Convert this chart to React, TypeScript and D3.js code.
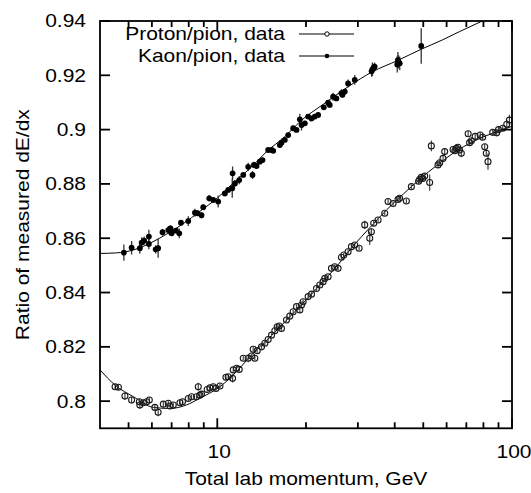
import React from "react";
import * as d3 from "d3";

// ---------- data ----------
const kaonP = [4.82, 5.12, 5.46, 5.54, 5.65, 5.86, 5.86, 6.18, 6.3, 6.52, 6.82, 6.94, 7.0, 7.24, 7.43, 7.53, 7.97, 8.4, 8.57, 8.84, 8.96, 9.39, 9.69, 10.07, 10.61, 10.89, 11.24, 11.27, 11.48, 11.87, 12.25, 12.73, 13.17, 13.31, 13.59, 13.94, 14.24, 14.88, 15.28, 15.48, 16.3, 16.51, 16.95, 17.4, 18.09, 18.57, 19.06, 19.31, 19.82, 20.34, 20.88, 21.42, 21.99, 22.98, 23.77, 24.08, 24.72, 25.37, 26.38, 26.6, 27.08, 27.79, 29.27, 33.4, 33.6, 33.9, 34.2, 40.8, 41.0, 41.2, 41.6, 49.2];
const kaonV = [0.8547, 0.8565, 0.8563, 0.8584, 0.8591, 0.8606, 0.8579, 0.8559, 0.8563, 0.8622, 0.863, 0.8636, 0.8618, 0.8628, 0.8618, 0.8657, 0.8663, 0.8694, 0.8692, 0.8685, 0.8714, 0.8747, 0.8741, 0.8735, 0.8765, 0.8778, 0.8784, 0.8839, 0.8802, 0.8814, 0.8833, 0.8863, 0.8833, 0.887, 0.8866, 0.8882, 0.8888, 0.8925, 0.8925, 0.8922, 0.8943, 0.8952, 0.8962, 0.898, 0.9005, 0.8999, 0.9038, 0.9017, 0.9023, 0.9048, 0.9041, 0.9048, 0.9054, 0.9082, 0.9099, 0.9091, 0.9121, 0.9115, 0.9134, 0.9128, 0.914, 0.917, 0.9183, 0.9215, 0.9222, 0.9228, 0.9232, 0.924, 0.9256, 0.925, 0.9244, 0.9308];
const kaonErr = [0.003, 0.0025, 0.002, 0.002, 0.0015, 0.0025, 0.002, 0.0015, 0.0035, 0.0012, 0.0015, 0.0012, 0.001, 0.001, 0.0018, 0.001, 0.0018, 0.0015, 0.001, 0.0012, 0.001, 0.0012, 0.001, 0.0022, 0.001, 0.001, 0.0035, 0.0025, 0.0012, 0.0015, 0.0008, 0.0015, 0.0015, 0.0012, 0.001, 0.0008, 0.0008, 0.0008, 0.0008, 0.0008, 0.001, 0.0015, 0.0008, 0.0008, 0.001, 0.0008, 0.002, 0.002, 0.001, 0.0008, 0.0008, 0.001, 0.001, 0.001, 0.001, 0.0008, 0.0015, 0.001, 0.0015, 0.001, 0.001, 0.0015, 0.0018, 0.002, 0.0025, 0.0015, 0.0015, 0.003, 0.003, 0.0025, 0.0025, 0.0065];

const protonP = [4.5, 4.62, 4.86, 5.12, 5.44, 5.46, 5.61, 5.76, 5.88, 6.14, 6.3, 6.56, 6.82, 6.91, 7.09, 7.47, 7.62, 7.97, 8.18, 8.51, 8.62, 8.73, 8.84, 9.24, 9.44, 9.69, 9.9, 10.21, 10.7, 10.89, 11.27, 11.33, 11.62, 11.87, 12.25, 12.73, 13.07, 13.24, 13.41, 13.66, 14.13, 14.5, 14.88, 15.28, 15.68, 15.97, 16.22, 16.51, 17.17, 17.62, 18.09, 18.57, 19.06, 19.31, 19.56, 20.34, 20.88, 21.71, 22.28, 22.86, 23.16, 23.77, 24.4, 25.04, 25.7, 26.38, 26.86, 27.79, 28.52, 29.27, 30.28, 31.64, 32.91, 33.33, 33.95, 35.12, 37.0, 37.98, 39.49, 41.05, 41.57, 43.82, 45.56, 48.2, 48.62, 49.23, 49.8, 50.55, 52.56, 53.25, 56.11, 56.85, 58.33, 59.1, 63.1, 64.0, 64.7, 65.5, 66.4, 67.3, 71.0, 71.8, 72.8, 75.0, 78.0, 79.5, 80.8, 81.8, 82.9, 86.0, 88.7, 90.0, 93.0, 96.0, 98.0];
const protonV = [0.8053, 0.8051, 0.8019, 0.8004, 0.7998, 0.7986, 0.7994, 0.7998, 0.8004, 0.7977, 0.7959, 0.7989, 0.7992, 0.7982, 0.7986, 0.7994, 0.7998, 0.801, 0.8016, 0.8016, 0.8053, 0.8022, 0.8026, 0.8043, 0.8049, 0.8053, 0.8047, 0.8056, 0.8088, 0.809, 0.8084, 0.8115, 0.8121, 0.8117, 0.8158, 0.8158, 0.8166, 0.8191, 0.8158, 0.8186, 0.82, 0.8213, 0.8227, 0.8243, 0.8259, 0.8274, 0.8277, 0.8268, 0.8299, 0.8313, 0.8329, 0.8348, 0.8336, 0.8354, 0.8366, 0.8385, 0.8394, 0.8415, 0.8428, 0.844, 0.8452, 0.8458, 0.8489, 0.8495, 0.8489, 0.853, 0.8538, 0.855, 0.8569, 0.8575, 0.8563, 0.8649, 0.86, 0.8624, 0.8655, 0.8667, 0.8692, 0.8735, 0.8728, 0.8743, 0.8747, 0.8737, 0.879, 0.881, 0.8817, 0.8824, 0.882, 0.8829, 0.8805, 0.894, 0.887, 0.8878, 0.8894, 0.8919, 0.8927, 0.8922, 0.8931, 0.8935, 0.8925, 0.8913, 0.8985, 0.8952, 0.8959, 0.8975, 0.898, 0.8972, 0.8937, 0.8913, 0.8882, 0.899, 0.8988, 0.9, 0.9005, 0.902, 0.9035];
const protonErr = [0.001, 0.001, 0.0015, 0.0012, 0.001, 0.0015, 0.001, 0.001, 0.001, 0.001, 0.0015, 0.001, 0.001, 0.001, 0.0008, 0.0008, 0.0008, 0.001, 0.0008, 0.0008, 0.0015, 0.001, 0.001, 0.0008, 0.0008, 0.0008, 0.0008, 0.0008, 0.001, 0.0008, 0.0015, 0.0008, 0.0008, 0.0008, 0.0008, 0.0015, 0.0008, 0.0008, 0.0008, 0.0008, 0.0008, 0.0008, 0.0008, 0.0008, 0.0008, 0.0008, 0.0008, 0.0008, 0.0008, 0.0008, 0.0008, 0.0008, 0.0008, 0.0008, 0.0008, 0.0008, 0.0008, 0.0008, 0.0008, 0.0008, 0.0008, 0.0008, 0.0008, 0.0008, 0.0008, 0.0008, 0.0008, 0.0008, 0.0008, 0.0008, 0.0008, 0.0015, 0.0025, 0.0012, 0.001, 0.0008, 0.0008, 0.001, 0.0008, 0.0008, 0.0008, 0.0008, 0.0008, 0.001, 0.001, 0.001, 0.001, 0.001, 0.003, 0.002, 0.001, 0.001, 0.001, 0.001, 0.001, 0.001, 0.0015, 0.001, 0.001, 0.0015, 0.001, 0.001, 0.001, 0.001, 0.001, 0.001, 0.001, 0.0012, 0.003, 0.001, 0.001, 0.0012, 0.001, 0.0015, 0.002];

// fitted curves
const kaonFitP = [4, 4.55, 5.2, 6.0, 6.8, 7.7, 8.7, 10, 11.3, 13, 14.7, 17, 19.06, 23, 27.8, 33.6, 41, 49.2, 58, 66.4, 80, 100];
const kaonFitV = [0.8544, 0.8546, 0.8557, 0.8585, 0.8618, 0.8655, 0.8698, 0.8748, 0.8802, 0.886, 0.8919, 0.8975, 0.9029, 0.9095, 0.9158, 0.9213, 0.9255, 0.9296, 0.933, 0.9361, 0.9402, 0.945];
const protonFitP = [4, 4.5, 5.2, 6.07, 6.9, 7.86, 8.7, 10.2, 11.7, 13.2, 15.1, 17.2, 19.6, 22.3, 25.5, 28.9, 33, 37.5, 42.8, 48.6, 55.5, 63.1, 73.8, 86, 100];
const protonFitV = [0.8115, 0.8059, 0.8016, 0.7977, 0.7973, 0.7986, 0.801, 0.8053, 0.8112, 0.8176, 0.8236, 0.8299, 0.8362, 0.8428, 0.8498, 0.8571, 0.864, 0.8704, 0.8763, 0.8817, 0.8868, 0.8913, 0.8956, 0.8987, 0.9012];

const yTicks = [0.8, 0.82, 0.84, 0.86, 0.88, 0.9, 0.92, 0.94];
const yTickLabels = ["0.8", "0.82", "0.84", "0.86", "0.88", "0.9", "0.92", "0.94"];
const xMajor = [10, 100];
const xMajorLabels = ["10", "100"];
const xMinor = [5, 6, 7, 8, 9, 20, 30, 40, 50, 60, 70, 80, 90];
const legendLabels = ["Proton/pion, data", "Kaon/pion, data"];

// ---------- layout ----------
const W = 531, H = 493;
const L = 100, R = 512, T = 21, B = 428.3;
const FONT = "'Liberation Sans', Arial, Helvetica, sans-serif";
const FS = 17.8;
const SX = 1.18;

export default function App() {
  const x = d3.scaleLog().domain([4, 100]).range([L, R]);
  const y = d3.scaleLinear().domain([0.79, 0.94]).range([B, T]);

  const line = d3
    .line<[number, number]>()
    .x((d) => x(d[0]))
    .y((d) => y(d[1]))
    .curve(d3.curveMonotoneX);

  const kaonFit = line(kaonFitP.map((p, i) => [p, kaonFitV[i]] as [number, number])) || "";
  const protonFit = line(protonFitP.map((p, i) => [p, protonFitV[i]] as [number, number])) || "";

  const txt = (s: string, tx: number, ty: number, anchor: string, key?: string) => (
    <text
      key={key}
      transform={`translate(${tx},${ty}) scale(${SX},1)`}
      textAnchor={anchor as any}
      fontFamily={FONT}
      fontSize={FS}
      fill="#000"
    >
      {s}
    </text>
  );

  return (
    <svg
      width={W}
      height={H}
      style={{ position: "absolute", left: 0, top: 0, background: "#fff" }}
    >
      <defs>
        <clipPath id="plotclip">
          <rect x={L} y={T} width={R - L} height={B - T} />
        </clipPath>
      </defs>
      <rect x={0} y={0} width={W} height={H} fill="#fff" />

      {/* fits */}
      <g clipPath="url(#plotclip)" fill="none" stroke="#000" strokeWidth={1}>
        <path d={kaonFit} />
        <path d={protonFit} />
      </g>

      {/* proton data */}
      <g clipPath="url(#plotclip)">
        {protonP.map((p, i) => (
          <line
            key={"pe" + i}
            x1={x(p)}
            x2={x(p)}
            y1={y(protonV[i] - protonErr[i])}
            y2={y(protonV[i] + protonErr[i])}
            stroke="#444"
            strokeWidth={1.2}
          />
        ))}
        {protonP.map((p, i) => (
          <circle
            key={"pc" + i}
            cx={x(p)}
            cy={y(protonV[i])}
            r={3}
            fill="none"
            stroke="#1a1a1a"
            strokeWidth={1.1}
          />
        ))}
      </g>

      {/* kaon data */}
      <g clipPath="url(#plotclip)">
        {kaonP.map((p, i) => (
          <line
            key={"ke" + i}
            x1={x(p)}
            x2={x(p)}
            y1={y(kaonV[i] - kaonErr[i])}
            y2={y(kaonV[i] + kaonErr[i])}
            stroke="#333"
            strokeWidth={1.3}
          />
        ))}
        {kaonP.map((p, i) => (
          <circle key={"kc" + i} cx={x(p)} cy={y(kaonV[i])} r={2.9} fill="#000" />
        ))}
      </g>

      {/* frame and ticks */}
      <g stroke="#000" strokeWidth={1.8} fill="none">
        <rect x={L} y={T} width={R - L} height={B - T} />
        {yTicks.map((t) => (
          <g key={"yt" + t}>
            <line x1={L} x2={L + 10} y1={y(t)} y2={y(t)} />
            <line x1={R} x2={R - 10} y1={y(t)} y2={y(t)} />
          </g>
        ))}
        {xMajor.map((t) => (
          <g key={"xM" + t}>
            <line x1={x(t)} x2={x(t)} y1={B} y2={B - 10} />
            <line x1={x(t)} x2={x(t)} y1={T} y2={T + 10} />
          </g>
        ))}
        {xMinor.map((t) => (
          <g key={"xm" + t}>
            <line x1={x(t)} x2={x(t)} y1={B} y2={B - 6} />
            <line x1={x(t)} x2={x(t)} y1={T} y2={T + 6} />
          </g>
        ))}
      </g>

      {/* tick labels */}
      {yTicks.map((t, i) => txt(yTickLabels[i], L - 14, y(t) + 6.4, "end", "yl" + i))}
      {xMajor.map((t, i) => txt(xMajorLabels[i], x(t) + 2, 458, "middle", "xl" + i))}

      {/* axis titles */}
      {txt("Total lab momentum, GeV", (L + R) / 2, 485, "middle")}
      <text
        transform={`translate(28.5,${(T + B) / 2}) rotate(-90) scale(${SX},1)`}
        textAnchor="middle"
        fontFamily={FONT}
        fontSize={FS}
        fill="#000"
      >
        Ratio of measured dE/dx
      </text>

      {/* legend */}
      {txt(legendLabels[0], 285, 40, "end")}
      {txt(legendLabels[1], 285, 61.5, "end")}
      <line x1={299} x2={354} y1={34} y2={34} stroke="#000" strokeWidth={1} />
      <circle cx={327} cy={34} r={2.2} fill="#fff" stroke="#000" strokeWidth={1} />
      <line x1={299} x2={354} y1={56} y2={56} stroke="#555" strokeWidth={1.6} />
      <circle cx={327} cy={56} r={2.3} fill="#000" />
    </svg>
  );
}
